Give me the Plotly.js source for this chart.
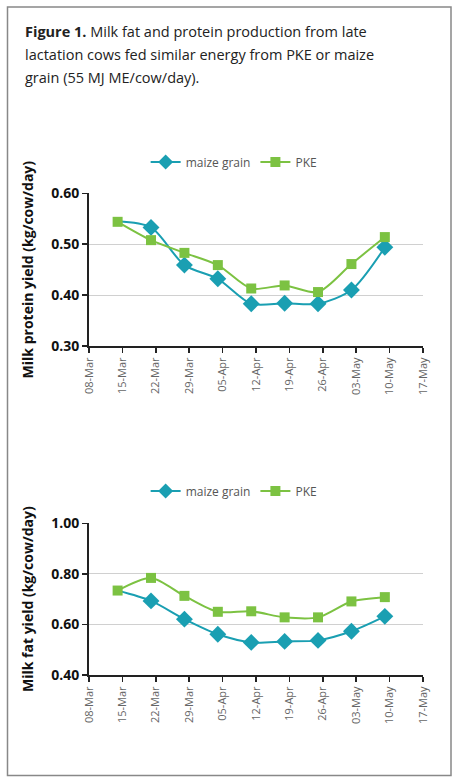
<!DOCTYPE html>
<html>
<head>
<meta charset="utf-8">
<script src="https://cdn.plot.ly/plotly-3.0.1.min.js"></script>
<style>
html,body{margin:0;padding:0;background:#fff;}
#chart{width:458px;height:783px;}
</style>
</head>
<body>
<div id="chart"></div>
<script>
const dates = ['2013-03-14','2013-03-21','2013-03-28','2013-04-04','2013-04-11','2013-04-18','2013-04-25','2013-05-02','2013-05-09'];
const proteinMaize = [0.545, 0.533, 0.459, 0.432, 0.383, 0.384, 0.383, 0.410, 0.494];
const proteinPKE   = [0.544, 0.508, 0.483, 0.459, 0.413, 0.419, 0.406, 0.461, 0.514];
const fatMaize     = [0.734, 0.693, 0.621, 0.561, 0.529, 0.533, 0.537, 0.573, 0.632];
const fatPKE       = [0.734, 0.784, 0.713, 0.650, 0.652, 0.628, 0.628, 0.691, 0.708];
const seriesNames = ['maize grain', 'PKE'];
const titleLines = ['<b>Figure 1.</b> Milk fat and protein production from late',
                    'lactation cows fed similar energy from PKE or maize',
                    'grain (55 MJ ME/cow/day).'];
const proteinTitle = 'Milk protein yield (kg/cow/day)';
const fatTitle = 'Milk fat yield (kg/cow/day)';

const teal = '#1a9fb2';
const green = '#7cc242';
const FONT = 'Open Sans, Noto Sans, sans-serif';

function mk(y, name, color, symbol, size, xa, ya, leg, hideFirst) {
  const sizes = y.map((v, i) => (hideFirst && i === 0) ? 0 : size);
  return {
    x: dates, y: y, name: name, type: 'scatter', mode: 'lines+markers',
    line: {color: color, width: 2, shape: 'spline', smoothing: 0.8},
    marker: {color: color, symbol: symbol, size: sizes, opacity: 1, line: {width: 0}},
    xaxis: xa, yaxis: ya, legend: leg, cliponaxis: false
  };
}

const traces = [
  mk(proteinMaize, seriesNames[0], teal, 'diamond', 13, 'x', 'y', 'legend', true),
  mk(proteinPKE, seriesNames[1], green, 'square', 10, 'x', 'y', 'legend', false),
  mk(fatMaize, seriesNames[0], teal, 'diamond', 13, 'x2', 'y2', 'legend2', true),
  mk(fatPKE, seriesNames[1], green, 'square', 10, 'x2', 'y2', 'legend2', false)
];

function xax(anchor) {
  return {
    type: 'date', range: ['2013-03-08', '2013-05-17'],
    tick0: '2013-03-08', dtick: 7 * 86400000, tickformat: '%d-%b',
    tickangle: -90, ticks: 'outside', ticklen: 5, tickwidth: 1.5, tickcolor: '#222',
    showline: true, linecolor: '#222', linewidth: 2, showgrid: false, zeroline: false,
    tickfont: {family: FONT, size: 11, color: '#666'},
    domain: [0.1943, 0.9236], anchor: anchor, fixedrange: true
  };
}
function yax(anchor, range, dtick, domain, title) {
  return {
    range: range, dtick: dtick, tickformat: '.2f', ticks: 'outside', ticklen: 5, tickwidth: 1.5,
    tickcolor: '#222', showline: true, linecolor: '#222', linewidth: 2,
    showgrid: true, gridcolor: '#d0d0d0', gridwidth: 1.2, zeroline: false,
    tickfont: {family: FONT, size: 14, color: '#111', weight: 'bold'},
    title: {text: '<b>' + title + '</b>', font: {family: FONT, size: 14, color: '#111'}, standoff: 14},
    domain: domain, anchor: anchor, fixedrange: true
  };
}

const legendBase = {
  orientation: 'h', xanchor: 'left', yanchor: 'middle',
  font: {family: FONT, size: 12, color: '#555'}, bgcolor: 'rgba(0,0,0,0)', itemwidth: 30
};

const titleY = [32, 55, 77];
const annotations = titleLines.map((t, i) => ({
  text: t, xref: 'paper', yref: 'paper', x: 23 / 458, y: 1 - titleY[i] / 783,
  xanchor: 'left', yanchor: 'middle', align: 'left', showarrow: false,
  font: {family: FONT, size: 14.5, color: '#222'}
}));

const layout = {
  width: 458, height: 783,
  margin: {l: 0, r: 0, t: 0, b: 0},
  paper_bgcolor: '#fff', plot_bgcolor: '#fff',
  showlegend: true,
  xaxis: xax('y'),
  yaxis: yax('x', [0.30, 0.60], 0.1, [0.5581, 0.7531], proteinTitle),
  xaxis2: xax('y2'),
  yaxis2: yax('x2', [0.40, 1.00], 0.2, [0.1379, 0.3317], fatTitle),
  legend: Object.assign({x: 0.318, y: 1 - 162 / 783}, legendBase),
  legend2: Object.assign({x: 0.318, y: 1 - 491 / 783}, legendBase),
  annotations: annotations,
  shapes: [{
    type: 'rect', xref: 'paper', yref: 'paper',
    x0: 7.5 / 458, x1: 451 / 458, y0: 1 - 775.5 / 783, y1: 1 - 7 / 783,
    line: {color: '#888', width: 1.5}
  }]
};

Plotly.newPlot('chart', traces, layout, {displayModeBar: false, staticPlot: true});
</script>
</body>
</html>
